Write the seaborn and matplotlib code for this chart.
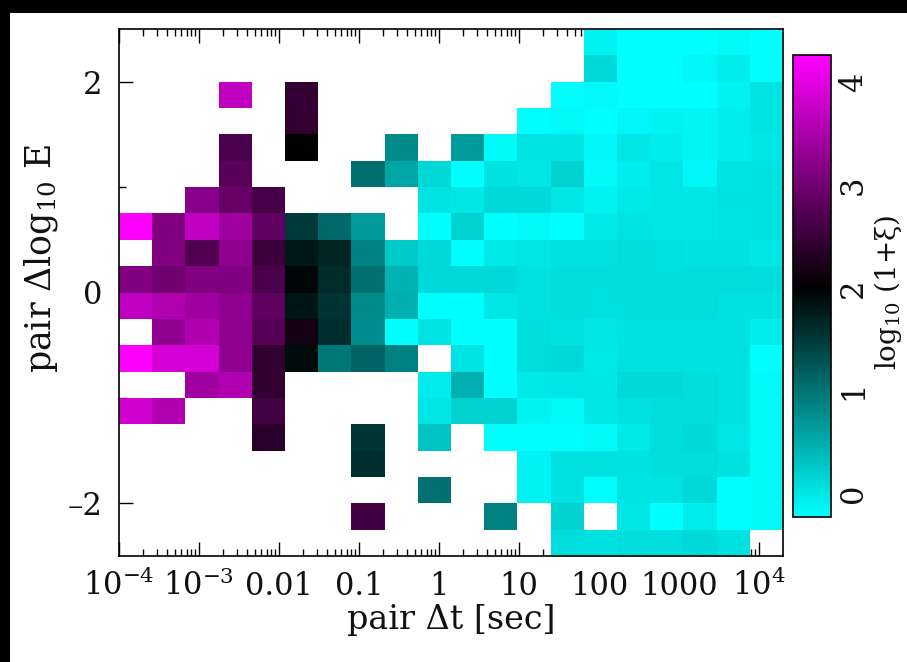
import numpy as np
import pandas as pd
import matplotlib
matplotlib.use("Agg")
import matplotlib.pyplot as plt
import seaborn as sns
from matplotlib.colors import LinearSegmentedColormap
from matplotlib.patches import Rectangle

N = np.nan

# ---- data -------------------------------------------------------------
# bin ranges (log10 of pair dt in seconds, pair delta log10 E)
log_dt_lo = -4.0
log_dt_hi = np.log10(2e4)
dlogE_lo = -2.5
dlogE_hi = 2.5

# log10(1+xi) per cell; rows from dlogE = +2.5 (top) down to -2.5,
# columns from dt = 1e-4 s up to 2e4 s; NaN = empty cell
xi_r00 = [N, N, N, N, N, N, N, N, N, N, N, N, N, N, -0.12, -0.22, -0.22, -0.22, -0.17, -0.23]
xi_r01 = [N, N, N, N, N, N, N, N, N, N, N, N, N, N, 0.11, -0.23, -0.23, -0.15, -0.07, -0.23]
xi_r02 = [N, N, N, 3.70, N, 2.45, N, N, N, N, N, N, N, -0.23, -0.17, -0.23, -0.23, -0.23, -0.12, 0.03]
xi_r03 = [N, N, N, N, N, 2.43, N, N, N, N, N, N, -0.23, -0.17, -0.23, -0.15, -0.12, -0.14, -0.07, 0.03]
xi_r04 = [N, N, N, 2.66, N, 2.00, N, N, 0.80, N, 0.66, -0.17, 0.03, 0.03, -0.15, 0.01, -0.07, -0.14, -0.07, 0.01]
xi_r05 = [N, N, N, 2.80, N, N, N, 1.05, 0.55, 0.13, -0.23, 0.05, 0.01, 0.18, -0.17, -0.07, 0.01, -0.15, 0.03, 0.05]
xi_r06 = [N, N, 3.20, 2.90, 2.62, N, N, N, N, 0.03, -0.01, 0.11, 0.11, 0.01, -0.12, -0.03, 0.01, -0.01, 0.05, 0.05]
xi_r07 = [4.27, 3.14, 3.70, 3.42, 2.85, 1.50, 1.10, 0.65, N, -0.23, 0.18, -0.23, -0.17, -0.23, -0.03, 0.03, 0.01, -0.01, 0.03, 0.05]
xi_r08 = [N, 3.14, 2.71, 3.28, 2.52, 1.80, 1.70, 0.88, 0.25, 0.11, -0.23, -0.03, 0.01, 0.05, 0.05, 0.08, 0.06, 0.04, 0.04, 0.01]
xi_r09 = [3.14, 3.00, 3.14, 3.14, 2.66, 1.95, 1.63, 1.02, 0.45, 0.11, 0.11, 0.11, 0.04, 0.08, 0.08, 0.08, 0.08, 0.08, 0.08, 0.08]
xi_r10 = [3.70, 3.56, 3.42, 3.28, 2.85, 1.82, 1.55, 0.80, 0.46, -0.23, -0.23, 0.01, 0.04, 0.08, 0.06, 0.08, 0.07, 0.08, 0.05, 0.05]
xi_r11 = [N, 3.28, 3.56, 3.28, 2.78, 2.19, 1.60, 0.78, -0.23, 0.03, -0.23, -0.23, 0.08, 0.05, 0.01, 0.05, 0.05, 0.05, 0.05, -0.07]
xi_r12 = [4.27, 3.90, 3.90, 3.28, 2.43, 1.90, 0.95, 1.15, 0.88, N, 0.03, -0.23, 0.08, 0.11, -0.03, 0.04, 0.04, 0.04, 0.04, -0.23]
xi_r13 = [N, N, 3.42, 3.56, 2.43, N, N, N, N, -0.05, 0.46, -0.23, -0.03, 0.01, -0.01, 0.11, 0.11, 0.08, 0.04, -0.17]
xi_r14 = [3.86, 3.56, N, N, 2.57, N, N, N, N, 0.01, 0.18, 0.18, -0.12, -0.17, -0.01, 0.04, 0.08, 0.08, 0.04, -0.17]
xi_r15 = [N, N, N, N, 2.37, N, N, 1.54, N, 0.28, N, -0.23, -0.23, -0.23, -0.17, -0.03, 0.08, 0.11, 0.01, -0.17]
xi_r16 = [N, N, N, N, N, N, N, 1.60, N, N, N, N, -0.12, 0.04, 0.04, 0.04, 0.08, 0.08, 0.04, -0.17]
xi_r17 = [N, N, N, N, N, N, N, N, N, 1.02, N, N, -0.12, 0.04, -0.23, 0.03, 0.03, 0.11, -0.23, -0.17]
xi_r18 = [N, N, N, N, N, N, N, 2.57, N, N, N, 0.88, N, 0.18, N, 0.01, -0.23, -0.07, -0.22, -0.17]
xi_r19 = [N, N, N, N, N, N, N, N, N, N, N, N, N, 0.08, 0.04, 0.08, 0.08, 0.11, 0.04, N]

# colour range
cb_lo = -0.23
cb_hi = 4.27
cb_ticks = [0, 1, 2, 3, 4]
cb_tick_labels = ["0", "1", "2", "3", "4"]

# axis ticks
x_major_exps = [-4, -3, -2, -1, 0, 1, 2, 3, 4]
x_tick_labels = ["$10^{-4}$", "$10^{-3}$", "0.01", "0.1", "1", "10", "100", "1000", "$10^{4}$"]
y_major_vals = [2, 0, -2]
y_tick_labels = ["2", "0", "\u20132"]
y_minor_vals = [1, -1]

x_label = "pair \u0394t [sec]"
y_label = "pair \u0394log$_{10}$ E"
cb_label = "log$_{10}$ (1+\u03be)"

# ---- plotting ---------------------------------------------------------
sns.set_theme(style="white")
plt.rcParams["font.family"] = ["DejaVu Serif"]
plt.rcParams["mathtext.fontset"] = "dejavuserif"

grid = np.array([xi_r00, xi_r01, xi_r02, xi_r03, xi_r04, xi_r05, xi_r06, xi_r07, xi_r08, xi_r09,
                 xi_r10, xi_r11, xi_r12, xi_r13, xi_r14, xi_r15, xi_r16, xi_r17, xi_r18, xi_r19])
nr, nc = grid.shape
df = pd.DataFrame(grid)

W, H = 907, 662
fig = plt.figure(figsize=(W / 100, H / 100), dpi=100)
fig.patch.set_facecolor("white")

# black screen border (top and left)
fig.patches.append(Rectangle((0, 1 - 13 / H), 1, 13 / H, transform=fig.transFigure,
                             facecolor="black", edgecolor="none", zorder=-5))
fig.patches.append(Rectangle((0, 0), 10 / W, 1, transform=fig.transFigure,
                             facecolor="black", edgecolor="none", zorder=-5))

ax = fig.add_axes([119 / W, (H - 556) / H, (783 - 119) / W, (556 - 29) / H])
cax = fig.add_axes([793 / W, (H - 517) / H, 38 / W, 462 / H])

p_black = (2.0 - cb_lo) / (cb_hi - cb_lo)
cmap = LinearSegmentedColormap.from_list(
    "cyan_black_magenta", [(0.0, "#00ffff"), (p_black, "#000000"), (1.0, "#ff00ff")])

sns.heatmap(df, ax=ax, cbar_ax=cax, cmap=cmap, vmin=cb_lo, vmax=cb_hi,
            mask=np.isnan(grid), xticklabels=False, yticklabels=False, linewidths=0)


def xpos(logv):
    return (np.asarray(logv, dtype=float) - log_dt_lo) / (log_dt_hi - log_dt_lo) * nc


def ypos(v):
    return (dlogE_hi - np.asarray(v, dtype=float)) / (dlogE_hi - dlogE_lo) * nr


x_minor_logs = [np.log10(k * 10.0 ** e) for e in range(-4, 5) for k in range(2, 10)
                if np.log10(k * 10.0 ** e) < log_dt_hi]

ax.set_xlim(0, nc)
ax.set_ylim(nr, 0)
ax.set_xticks(xpos(x_major_exps))
ax.set_xticklabels(x_tick_labels, va="baseline")
ax.set_xticks(xpos(x_minor_logs), minor=True)
ax.set_yticks(ypos(y_major_vals))
ax.set_yticklabels(y_tick_labels, rotation=0)
ax.set_yticks(ypos(y_minor_vals), minor=True)

ax.tick_params(which="both", direction="in", top=True, bottom=True, left=True, right=True,
               color="black", width=1.0, labelcolor="#111111")
ax.tick_params(which="major", length=10)
ax.tick_params(which="minor", length=5)
ax.tick_params(axis="x", which="major", pad=28, labelsize=22)
ax.tick_params(axis="y", which="major", pad=12, labelsize=22)
for sp in ax.spines.values():
    sp.set_visible(True)
    sp.set_color("black")
    sp.set_linewidth(1.2)

ax.set_xlabel("")
ax.set_ylabel("")
fig.text(451 / W, (H - 620) / H, x_label, ha="center", va="center", fontsize=24, color="#111111")
fig.text(41 / W, (H - 258) / H, y_label, ha="center", va="center", rotation=90,
         fontsize=25, color="#111111")

# colour bar
cbar = ax.collections[0].colorbar
cbar.set_ticks(cb_ticks)
cbar.set_ticklabels(cb_tick_labels)
cbar.outline.set_edgecolor("black")
cbar.outline.set_linewidth(1.2)
cax.yaxis.set_ticks(np.arange(0.25, 4.26, 0.25), minor=True)
cax.tick_params(which="both", direction="in", left=True, right=True, color="black", width=1.0)
cax.tick_params(which="major", length=9, labelsize=22, pad=5, labelcolor="#111111")
cax.tick_params(which="minor", length=9)
for t in cax.get_yticklabels():
    t.set_rotation(90)
    t.set_va("center")
fig.text(888 / W, (H - 292) / H, cb_label, ha="center", va="center", rotation=90,
         fontsize=20, color="#111111")

fig.savefig("out.png", dpi=100, facecolor="white")
